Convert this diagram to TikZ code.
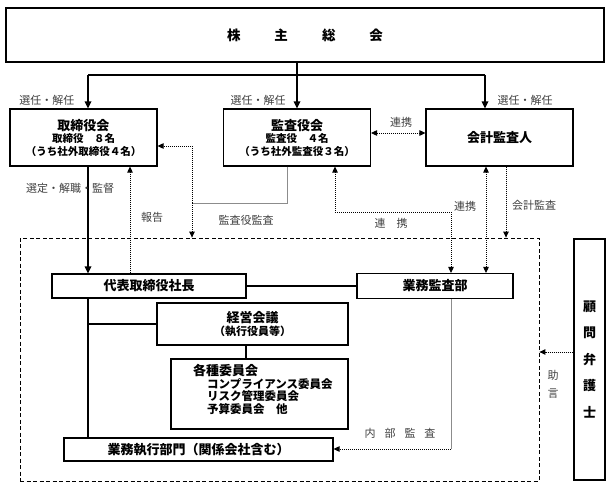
\documentclass[tikz,border=0pt]{standalone}
\usepackage{fontspec}
\setmainfont{Noto Sans CJK JP}
\usetikzlibrary{arrows.meta}
\begin{document}
\begin{tikzpicture}[x=1pt,y=-1pt,
 box/.style={draw, line width=1.1pt, inner sep=0pt, align=center, font=\bfseries\fontsize{12.5}{13.5}\selectfont},
 sub/.style={font=\bfseries\fontsize{10.5}{13.5}\selectfont},
 conn/.style={line width=1.6pt},
 arr/.style={-{Triangle[length=7pt,width=6.5pt]}},
 darr/.style={-{Triangle[length=6pt,width=5.5pt]}},
 dboth/.style={{Triangle[length=6pt,width=5.5pt]}-{Triangle[length=6pt,width=5.5pt]}},
 dotl/.style={line width=0.9pt, dash pattern=on 1pt off 1pt},
 grayl/.style={line width=0.8pt, black!45},
 lbl/.style={font=\fontsize{11}{12}\selectfont, text=black!75, inner sep=0pt},
]
\useasboundingbox (0,0) rectangle (613,487);

% boxes
\node[box, minimum width=598pt, minimum height=54pt, font=\bfseries\fontsize{13.5}{14}\selectfont] (top) at (305,35) {株\hspace{34pt}主\hspace{34pt}総\hspace{34pt}会};
\node[box, minimum width=147pt, minimum height=57pt] (tori) at (83.5,137.5)
 {{\fontsize{13}{14}\selectfont 取締役会}\\[-1pt]{\fontsize{10.5}{12}\selectfont 取締役　８名}\\[-1pt]{\fontsize{10.5}{12}\selectfont （うち社外取締役４名）}};
\node[box, minimum width=147pt, minimum height=57pt] (kansa) at (297,137.5)
 {{\fontsize{13}{14}\selectfont 監査役会}\\[-1pt]{\fontsize{10.5}{12}\selectfont 監査役　４名}\\[-1pt]{\fontsize{10.5}{12}\selectfont （うち社外監査役３名）}};
\node[box, minimum width=147pt, minimum height=57pt, font=\bfseries\fontsize{13}{14}\selectfont] (kaikei) at (499.5,137.5) {会計監査人};

\node[draw, dashed, line width=0.8pt, dash pattern=on 4pt off 2.5pt, minimum width=519pt, minimum height=243pt, inner sep=0pt] (inner) at (279.5,359.5) {};

\node[box, minimum width=194pt, minimum height=24pt, font=\bfseries\fontsize{13}{14}\selectfont] (pres) at (149,286) {代表取締役社長};
\node[box, minimum width=156pt, minimum height=25pt, font=\bfseries\fontsize{13}{14}\selectfont] (gyomu) at (435,286) {業務監査部};
\node[box, minimum width=191pt, minimum height=42pt] (keiei) at (252.5,324)
 {{\fontsize{13}{14}\selectfont 経営会議}\\[-1pt]{\fontsize{11}{12}\selectfont （執行役員等）}};
\node[box, minimum width=177pt, minimum height=70pt] (kakushu) at (259.5,394) {};
\node[anchor=north west, inner sep=0pt, align=left, font=\bfseries\fontsize{11.5}{12.7}\selectfont] (kakushuT) at (193,364)
 {{\fontsize{13}{14}\selectfont 各種委員会}\\\hspace{14pt}コンプライアンス委員会\\\hspace{14pt}リスク管理委員会\\\hspace{14pt}予算委員会　他};
\node[box, minimum width=269pt, minimum height=23pt, font=\bfseries\fontsize{13}{14}\selectfont] (shikko) at (198.5,449.5) {業務執行部門（関係会社含む）};
\node[box, minimum width=31pt, minimum height=241pt, font=\bfseries\fontsize{13}{26.5}\selectfont] (komon) at (589.5,359.5) {顧\\問\\弁\\護\\士};

% solid connectors
\coordinate (hl) at (88,75);
\coordinate (hr) at (485,75);
\draw[conn] (top.south -| kansa.north) -- (kansa.north |- hl);
\draw[conn] (hl) -- (hr);
\draw[conn,arr] (hl) -- (hl |- tori.north);
\draw[conn,arr] (kansa.north |- hl) -- (kansa.north);
\draw[conn,arr] (hr) -- (hr |- kaikei.north);
\draw[conn,arr] (hl |- tori.south) -- (hl |- pres.north);
\draw[conn] (hl |- pres.south) -- (hl |- shikko.north);
\draw[conn] (hl |- keiei.west) -- (keiei.west);
\draw[conn] (pres.east) -- (pres.east -| gyomu.west);
\coordinate (kx) at (246,0);
\draw[conn] (keiei.south -| kx) -- (kakushu.north -| kx);

% dotted connectors
\coordinate (c1) at (192,203);
\coordinate (c2) at (192,146);
\coordinate (k1) at (287,203);
\draw[grayl] (k1 |- kansa.south) -- (k1) -- (c1);
\draw[dotl,darr] (c1) -- (c2) -- (c2 -| tori.east);
\draw[dotl,darr] (c1) -- (c1 |- inner.north);
\coordinate (r) at (130,0);
\draw[dotl,darr] (r |- pres.north) -- (r |- tori.south);
\coordinate (y133) at (0,133);
\draw[dotl,dboth] (kansa.east |- y133) -- (kaikei.west |- y133);
\coordinate (d1) at (335,212);
\coordinate (d2) at (451,212);
\draw[dotl,dboth] (d1 |- kansa.south) -- (d1) -- (d2) -- (d2 |- gyomu.north);
\coordinate (e) at (486,0);
\draw[dotl,dboth] (e |- kaikei.south) -- (e |- gyomu.north);
\coordinate (f) at (506,0);
\draw[dotl,darr] (f |- kaikei.south) -- (f |- inner.north);
\coordinate (g) at (451,449);
\draw[grayl] (d2 |- gyomu.south) -- (g);
\draw[dotl,darr] (g) -- (g -| shikko.east);
\coordinate (y352) at (0,352);
\draw[dotl,darr] (komon.west |- y352) -- (inner.east |- y352);

% labels
\node[lbl] (l1) at (47,100) {選任・解任};
\node[lbl] (l2) at (258,100) {選任・解任};
\node[lbl] (l3) at (525,100) {選任・解任};
\node[lbl] (l4) at (70,188) {選定・解職・監督};
\node[lbl] (l5) at (152,217) {報告};
\node[lbl] (l6) at (246,220) {監査役監査};
\node[lbl] (l7) at (401,122) {連携};
\node[lbl] (l8) at (465,206) {連携};
\node[lbl] (l9) at (534,205) {会計監査};
\node[lbl] (l10) at (391,223) {連　携};
\node[lbl] (l11) at (400,433) {内\hspace{9pt}部\hspace{9pt}監\hspace{9pt}査};
\node[lbl, align=center, font=\fontsize{11}{18}\selectfont] (l12) at (553,384) {助\\言};
\end{tikzpicture}
\end{document}
